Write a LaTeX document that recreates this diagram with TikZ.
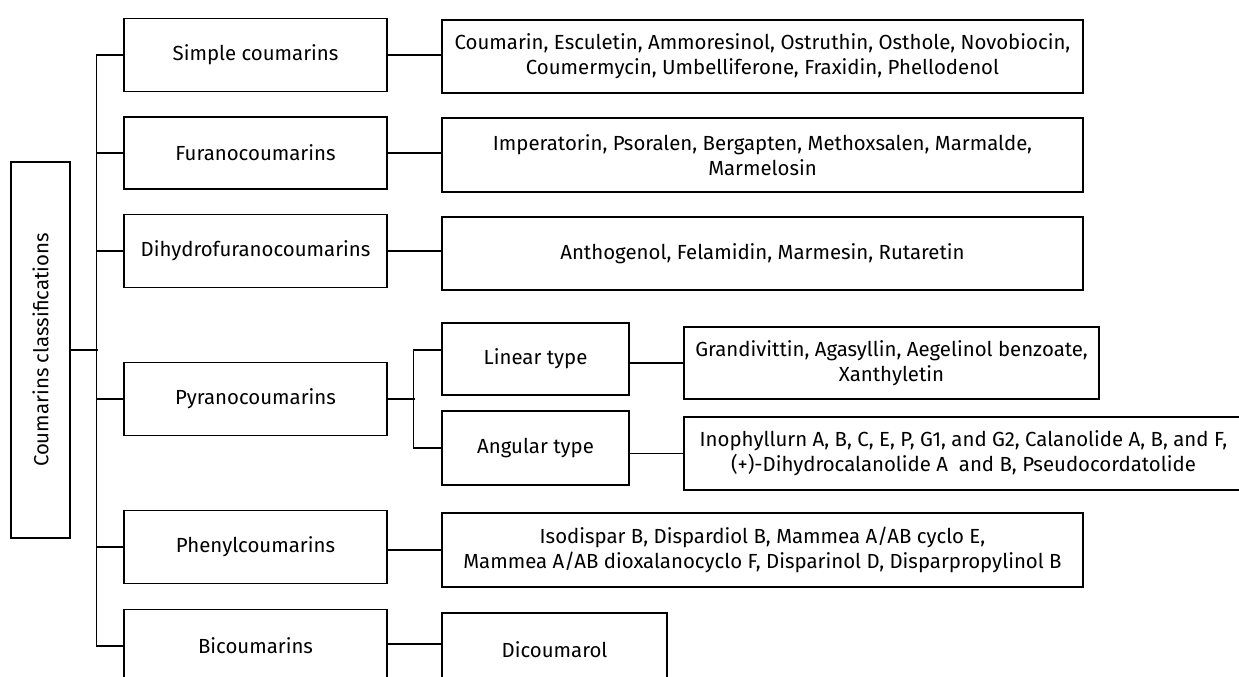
\documentclass[tikz,border=0pt]{standalone}
\usepackage{fontspec}
\setmainfont{Fira Sans}
\begin{document}
\begin{tikzpicture}[x=1pt,y=-1pt,
  box/.style={draw=black,line width=1.5pt,inner sep=0pt,align=center,
    font=\fontsize{20.4}{25}\selectfont},
  conn/.style={draw=black,line width=1.5pt}]
\useasboundingbox (0,0) rectangle (1239,677);
% root
\node[box,minimum width=59,minimum height=376] (root) at (40.5,350) {\rotatebox{90}{Coumarins classifications}};
% level 1
\node[box,minimum width=263,minimum height=73] (s1) at (255.5,55) {Simple coumarins};
\node[box,minimum width=263,minimum height=72] (s2) at (255.5,153) {Furanocoumarins};
\node[box,minimum width=263,minimum height=73] (s3) at (255.5,251) {Dihydrofuranocoumarins};
\node[box,minimum width=263,minimum height=73] (s4) at (255.5,399) {Pyranocoumarins};
\node[box,minimum width=263,minimum height=73] (s5) at (255.5,547) {Phenylcoumarins};
\node[box,minimum width=263,minimum height=73] (s6) at (255.5,646) {Bicoumarins};
% lists
\node[box,minimum width=641,minimum height=73] (l1) at (762.5,56.5) {Coumarin, Esculetin, Ammoresinol, Ostruthin, Osthole, Novobiocin,\\Coumermycin, Umbelliferone, Fraxidin, Phellodenol};
\node[box,minimum width=641,minimum height=74] (l2) at (762.5,155) {Imperatorin, Psoralen, Bergapten, Methoxsalen, Marmalde,\\Marmelosin};
\node[box,minimum width=641,minimum height=73] (l3) at (762.5,253.5) {Anthogenol, Felamidin, Marmesin, Rutaretin};
\node[box,minimum width=187,minimum height=72] (lin) at (535.5,359) {Linear type};
\node[box,minimum width=187,minimum height=74] (ang) at (535.5,448) {Angular type};
\node[box,minimum width=415,minimum height=72] (linl) at (891.5,363) {Grandivittin, Agasyllin, Aegelinol benzoate,\\Xanthyletin};
\node[box,minimum width=559,minimum height=73] (angl) at (963.5,453.5) {Inophyllurn A, B, C, E, P, G1, and G2, Calanolide A, B, and F,\\(+)-Dihydrocalanolide A\ \ and B, Pseudocordatolide};
\node[box,minimum width=641,minimum height=74] (l5) at (762.5,550) {Isodispar B, Dispardiol B, Mammea A/AB cyclo E,\\Mammea A/AB dioxalanocyclo F, Disparinol D, Disparpropylinol B};
\node[box,minimum width=225,minimum height=73] (dic) at (554.5,649.5) {Dicoumarol};
% connectors
\draw[conn] (root.east) -- ++(27,0);
\draw[conn] (s1.west) -- ++(-27,0) |- (s6.west);
\foreach \n in {s2,s3,s4,s5} \draw[conn] (\n.west) -- ++(-27,0);
\draw[conn] (s1.east) -- (s1.east -| l1.west);
\draw[conn] (s2.east) -- (s2.east -| l2.west);
\draw[conn] (s3.east) -- (s3.east -| l3.west);
\draw[conn] (s4.east) -- ++(27,0);
\draw[conn] ([yshift=9pt]lin.west) -- ++(-28,0) |- (ang.west);
\draw[conn] (lin.east |- linl.west) -- (linl.west);
\draw[conn] (ang.east |- angl.west) -- (angl.west);
\draw[conn] (s5.east |- l5.west) -- (l5.west);
\draw[conn] (s6.east |- 0,644) -- (dic.west |- 0,644);
\end{tikzpicture}
\end{document}
